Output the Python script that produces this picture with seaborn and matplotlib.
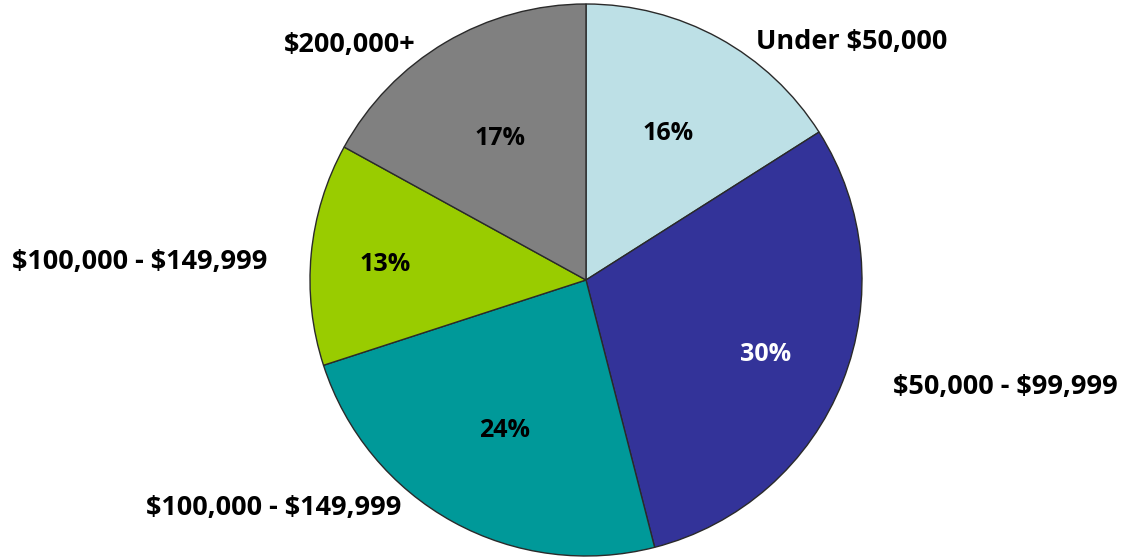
import matplotlib
matplotlib.use("Agg")
import matplotlib.pyplot as plt
import seaborn as sns
import numpy as np

sns.set_theme(style="white")
plt.rcParams["font.family"] = ["Open Sans", "DejaVu Sans"]
plt.rcParams["text.parse_math"] = False

# Household income distribution
categories = ["Under $50,000", "$50,000 - $99,999", "$100,000 - $149,999",
              "$100,000 - $149,999", "$200,000+"]
shares = [16, 30, 24, 13, 17]
colors = ["#bde0e6", "#333399", "#009999", "#99cc00", "#808080"]
pct_colors = ["black", "white", "black", "black", "black"]

W, H = 1130, 557
fig = plt.figure(figsize=(W / 100, H / 100), dpi=100)
ax = fig.add_axes([0, 0, 1, 1])

cx, cy, r = 586, H - 280, 276
wedges, _ = ax.pie(shares, colors=colors, startangle=90, counterclock=False,
                   center=(cx, cy), radius=r,
                   wedgeprops=dict(edgecolor="#2a2a2a", linewidth=1.0))
ax.set_xlim(0, W)
ax.set_ylim(0, H)
ax.set_aspect("equal")
ax.axis("off")

# percentage labels, placed along each wedge's bisector
pct_dist = [0.62, 0.70, 0.61, 0.73, 0.61]
for w, v, d, c in zip(wedges, shares, pct_dist, pct_colors):
    mid = np.deg2rad((w.theta1 + w.theta2) / 2)
    ax.text(cx + d * r * np.cos(mid), cy + d * r * np.sin(mid) - 3, f"{v}%",
            ha="center", va="center", fontsize=18, fontweight="bold", color=c)

# category labels around the pie (figure fractions)
label_pos = [(852 / W, 1 - 42 / H), (1005 / W, 1 - 387 / H), (274 / W, 1 - 508 / H),
             (140 / W, 1 - 262 / H), (350 / W, 1 - 45 / H)]
for name, (fx, fy) in zip(categories, label_pos):
    fig.text(fx, fy, name, ha="center", va="center", fontsize=19.5,
             fontweight="bold", color="black")

fig.savefig("out.png", dpi=100, facecolor="white")
